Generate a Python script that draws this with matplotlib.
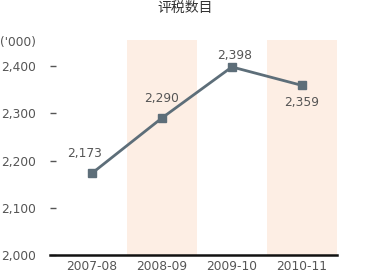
import matplotlib.pyplot as plt

# Data
years = ['2007-08', '2008-09', '2009-10', '2010-11']
assessments = [2173, 2290, 2398, 2359]
value_labels = ['2,173', '2,290', '2,398', '2,359']
y_ticks = [2000, 2100, 2200, 2300, 2400]
y_tick_labels = ['2,000', '2,100', '2,200', '2,300', '2,400']

text_color = '#555555'
line_color = '#5d6e79'
band_color = '#fdeee4'

plt.rcParams['font.family'] = ['DejaVu Sans', 'Noto Sans CJK SC']

fig = plt.figure(figsize=(3.67, 2.74), dpi=100)
ax = fig.add_axes([0.136, 0.069, 0.782, 0.785])

x = list(range(len(years)))

# shaded bands behind every second year
for i in x:
    if i % 2 == 1:
        ax.axvspan(i - 0.5, i + 0.5, color=band_color, lw=0, zorder=0)

ax.plot(x, assessments, color=line_color, lw=2, marker='s', markersize=6, zorder=3)

# value labels (offsets in points)
offsets = [(-5, 14), (0, 14), (2, 8.5), (0, -12)]
for xi, yi, lab, (dx, dy) in zip(x, assessments, value_labels, offsets):
    ax.annotate(lab, (xi, yi), xytext=(dx, dy), textcoords='offset points',
                ha='center', va='center', fontsize=8.8, color=text_color)

ax.set_xlim(-0.6, 3.5)
ax.set_ylim(2000, 2455)
ax.set_xticks(x)
ax.set_xticklabels(years)
ax.set_yticks(y_ticks)
ax.set_yticklabels(y_tick_labels)

for side in ['left', 'right', 'top']:
    ax.spines[side].set_visible(False)
ax.spines['bottom'].set_linewidth(1.8)
ax.spines['bottom'].set_color('#111111')

ax.tick_params(axis='x', length=0, pad=3.5, labelsize=8.8, labelcolor=text_color)
ax.tick_params(axis='y', direction='in', length=4.5, width=1, color=text_color,
               pad=10, labelsize=8.8, labelcolor=text_color)

fig.text(0.0, 0.845, "('000)", fontsize=8.8, color=text_color, ha='left', va='center')
fig.text(0.505, 0.97, '评税数目', fontsize=10, color='#333333', ha='center', va='center',
         family=['Noto Sans CJK SC', 'DejaVu Sans'])

plt.savefig('out.png', dpi=100)
